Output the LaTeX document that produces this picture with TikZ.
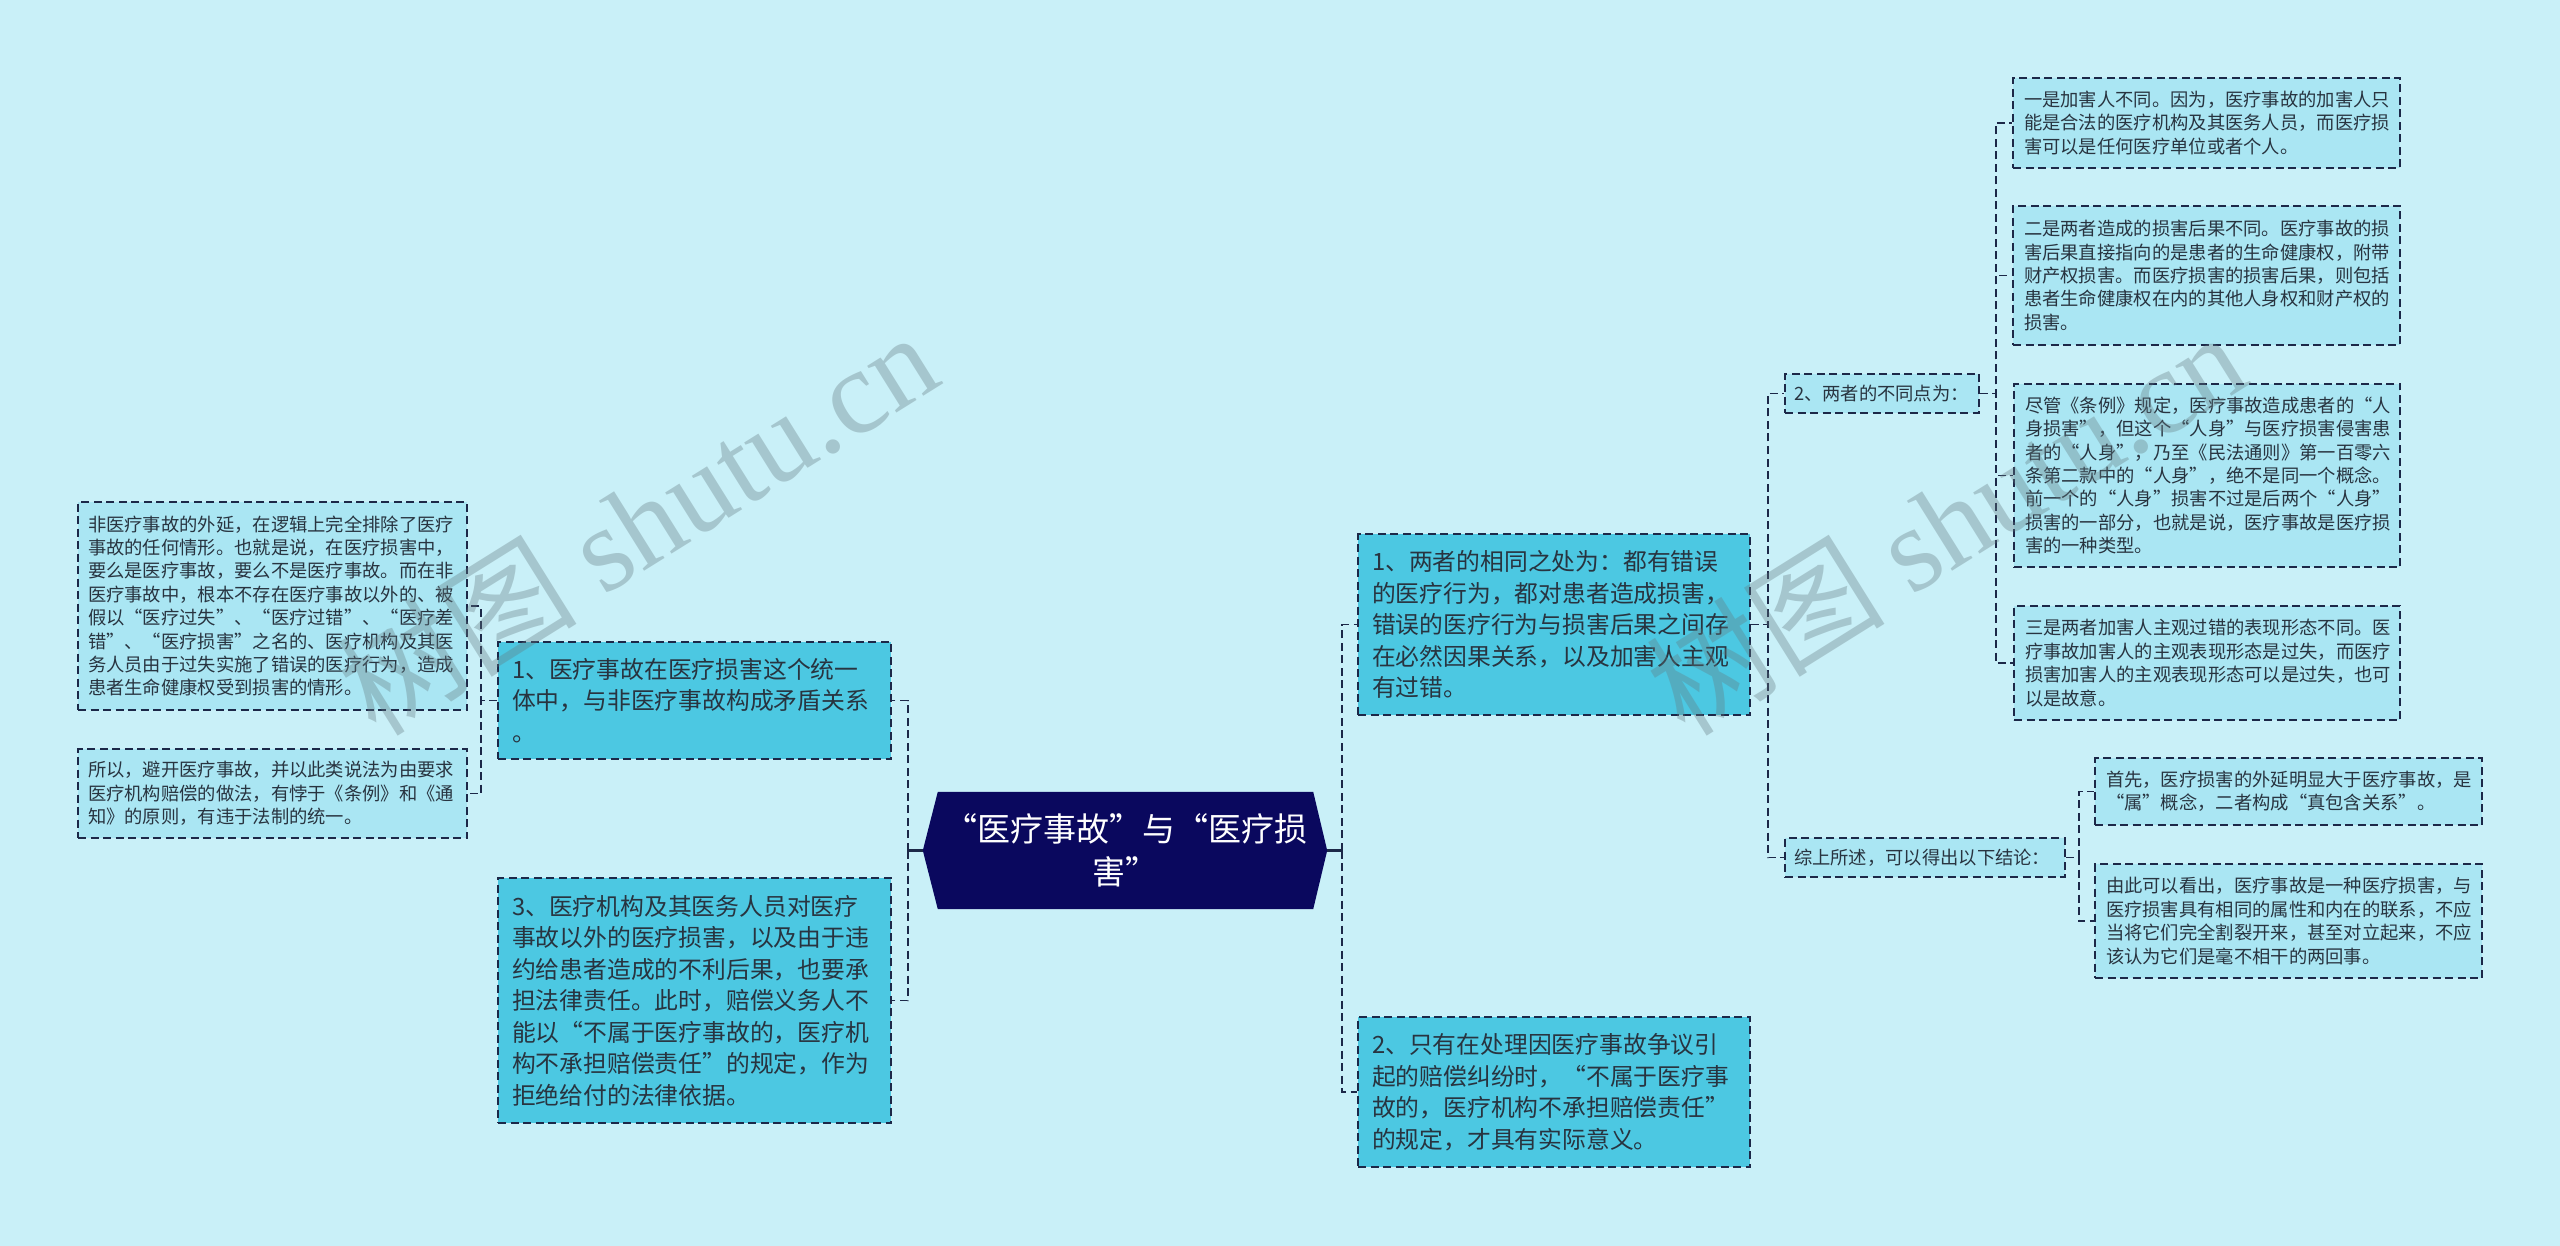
\documentclass[tikz,border=0pt]{standalone}
\usepackage{fontspec}
\setmainfont{Noto Sans CJK SC}
\newfontfamily\wmlatin{Liberation Serif}
\usetikzlibrary{calc,backgrounds}
\definecolor{bgc}{RGB}{201,240,248}
\definecolor{lvone}{RGB}{76,200,226}
\definecolor{lvtwo}{RGB}{170,230,243}
\definecolor{hexc}{RGB}{10,8,94}
\definecolor{edgec}{RGB}{28,40,72}
\definecolor{txtc}{RGB}{40,52,64}
\definecolor{wmc}{RGB}{100,122,128}
\begin{document}
\begin{tikzpicture}[x=1pt,y=-1pt,
  box/.style={draw=edgec, line width=1.6pt, dash pattern=on 8pt off 4.5pt, align=left, text=txtc, anchor=center, inner sep=0pt},
  lone/.style={box, fill=lvone, font=\fontsize{23.8}{31.5}\selectfont},
  ltwo/.style={box, fill=lvtwo, font=\fontsize{18.3}{23.4}\selectfont},
  conn/.style={draw=edgec, line width=1.6pt, dash pattern=on 8pt off 4.5pt},
  stub/.style={draw=edgec, line width=2.5pt},
  wmark/.style={text=wmc, opacity=0.35, rotate=32, inner sep=0pt, font=\fontsize{120}{120}\selectfont}
]
\useasboundingbox (0,0) rectangle (2560,1246);

% central node
\node[font=\fontsize{33}{43}\selectfont, text=white, align=center, minimum width=375pt, minimum height=117pt, inner sep=0pt] (c) at (1125.5,850.5) {“医疗事故”与“医疗损\\害”};
\coordinate (cw) at ($(c.west)+(-15,0)$);
\coordinate (ce) at ($(c.east)+(14,0)$);

% left side
\node[lone, minimum width=393pt, minimum height=117pt, text width=365pt] (L1) at (694.5,700.5) {1、医疗事故在医疗损害这个统一\\体中，与非医疗事故构成矛盾关系\\。};
\node[lone, minimum width=393pt, minimum height=245pt, text width=365pt] (L3) at (694.5,1000.5) {3、医疗机构及其医务人员对医疗\\事故以外的医疗损害，以及由于违\\约给患者造成的不利后果，也要承\\担法律责任。此时，赔偿义务人不\\能以“不属于医疗事故的，医疗机\\构不承担赔偿责任”的规定，作为\\拒绝给付的法律依据。};
\node[ltwo, minimum width=389pt, minimum height=208pt, text width=369pt] (A) at (272.5,606) {非医疗事故的外延，在逻辑上完全排除了医疗\\事故的任何情形。也就是说，在医疗损害中，\\要么是医疗事故，要么不是医疗事故。而在非\\医疗事故中，根本不存在医疗事故以外的、被\\假以“医疗过失”、“医疗过错”、“医疗差\\错”、“医疗损害”之名的、医疗机构及其医\\务人员由于过失实施了错误的医疗行为，造成\\患者生命健康权受到损害的情形。};
\node[ltwo, minimum width=389pt, minimum height=89pt, text width=369pt] (B) at (272.5,793.5) {所以，避开医疗事故，并以此类说法为由要求\\医疗机构赔偿的做法，有悖于《条例》和《通\\知》的原则，有违于法制的统一。};

% right side
\node[lone, minimum width=392pt, minimum height=181pt, text width=364pt] (R1) at (1554,624.5) {1、两者的相同之处为：都有错误\\的医疗行为，都对患者造成损害，\\错误的医疗行为与损害后果之间存\\在必然因果关系，以及加害人主观\\有过错。};
\node[lone, minimum width=392pt, minimum height=150pt, text width=364pt] (R2) at (1554,1092) {2、只有在处理因医疗事故争议引\\起的赔偿纠纷时，“不属于医疗事\\故的，医疗机构不承担赔偿责任”\\的规定，才具有实际意义。};
\node[ltwo, minimum width=194pt, minimum height=39pt, text width=176pt] (D) at (1882,393.5) {2、两者的不同点为：};
\node[ltwo, minimum width=280pt, minimum height=39pt, text width=262pt] (E) at (1925,857.5) {综上所述，可以得出以下结论：};
\node[ltwo, minimum width=387pt, minimum height=90pt, text width=365pt] (D1) at (2206.5,123) {一是加害人不同。因为，医疗事故的加害人只\\能是合法的医疗机构及其医务人员，而医疗损\\害可以是任何医疗单位或者个人。};
\node[ltwo, minimum width=387pt, minimum height=139pt, text width=365pt] (D2) at (2206.5,275.5) {二是两者造成的损害后果不同。医疗事故的损\\害后果直接指向的是患者的生命健康权，附带\\财产权损害。而医疗损害的损害后果，则包括\\患者生命健康权在内的其他人身权和财产权的\\损害。};
\node[ltwo, minimum width=386pt, minimum height=183pt, text width=364pt] (D3) at (2207,475.5) {尽管《条例》规定，医疗事故造成患者的“人\\身损害”，但这个“人身”与医疗损害侵害患\\者的“人身”，乃至《民法通则》第一百零六\\条第二款中的“人身”，绝不是同一个概念。\\前一个的“人身”损害不过是后两个“人身”\\损害的一部分，也就是说，医疗事故是医疗损\\害的一种类型。};
\node[ltwo, minimum width=386pt, minimum height=114pt, text width=364pt] (D4) at (2207,663) {三是两者加害人主观过错的表现形态不同。医\\疗事故加害人的主观表现形态是过失，而医疗\\损害加害人的主观表现形态可以是过失，也可\\以是故意。};
\node[ltwo, minimum width=387pt, minimum height=67pt, text width=365pt] (E1) at (2288.5,791.5) {首先，医疗损害的外延明显大于医疗事故，是\\“属”概念，二者构成“真包含关系”。};
\node[ltwo, minimum width=387pt, minimum height=114pt, text width=365pt] (E2) at (2288.5,921) {由此可以看出，医疗事故是一种医疗损害，与\\医疗损害具有相同的属性和内在的联系，不应\\当将它们完全割裂开来，甚至对立起来，不应\\该认为它们是毫不相干的两回事。};

\begin{scope}[on background layer]
\fill[bgc] (0,0) rectangle (2560,1246);
\fill[hexc] (c.north west) -- (c.north east) -- (ce) -- (c.south east) -- (c.south west) -- (cw) -- cycle;
% connectors
\coordinate (lb) at ($(cw)+(-15,0)$);
\coordinate (rb) at ($(ce)+(15,0)$);
\draw[stub] (cw) -- (lb);
\draw[stub] (ce) -- (rb);
\draw[conn] (lb) |- (L1.east);
\draw[conn] (lb) |- (L3.east);
\draw[conn] (L1.west) -- ++(-16,0) |- (A.east);
\draw[conn] (L1.west) -- ++(-16,0) |- (B.east);
\draw[conn] (rb) |- (R1.west);
\draw[conn] (rb) |- (R2.west);
\draw[conn] (R1.east) -- ++(17,0) |- (D.west);
\draw[conn] (R1.east) -- ++(17,0) |- (E.west);
\draw[conn] (D.east) -- ++(16,0) |- (D1.west);
\draw[conn] (D.east) -- ++(16,0) |- (D2.west);
\draw[conn] (D.east) -- ++(16,0) |- (D3.west);
\draw[conn] (D.east) -- ++(16,0) |- (D4.west);
\draw[conn] (E.east) -- ++(13,0) |- (E1.west);
\draw[conn] (E.east) -- ++(13,0) |- (E2.west);
\end{scope}

% watermarks
\node[wmark] (wm1) at (637,522) {树图 {\wmlatin shutu.cn}};
\node[wmark] (wm2) at (1945,522) {树图 {\wmlatin shutu.cn}};
\end{tikzpicture}
\end{document}
